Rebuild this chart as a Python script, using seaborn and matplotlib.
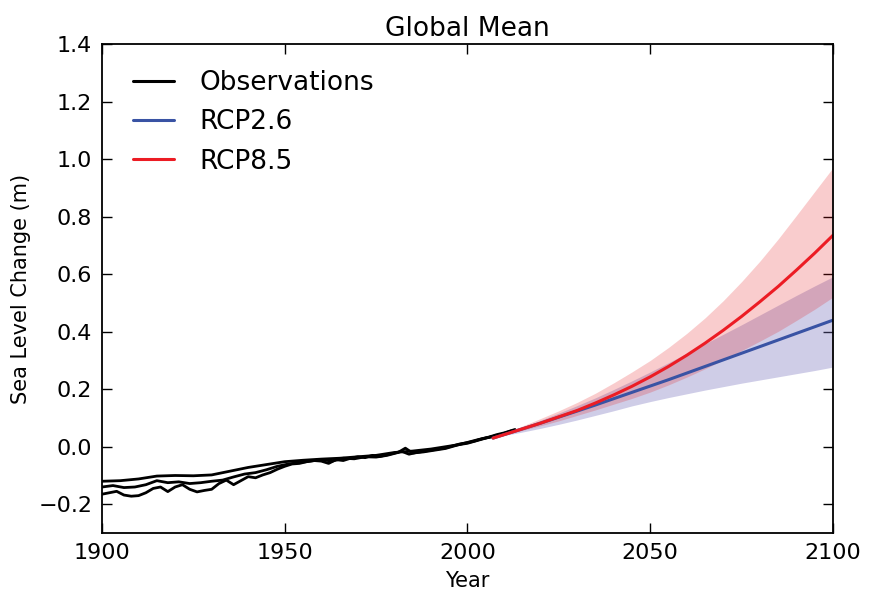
import numpy as np
import pandas as pd
import matplotlib
matplotlib.use("Agg")
import matplotlib.pyplot as plt
import seaborn as sns

# ====================
# DATOS
# ====================
obs_a_years = [1900, 1905, 1910, 1915, 1920, 1925, 1930, 1935, 1940, 1945, 1950, 1955,
               1960, 1965, 1970, 1975, 1980, 1985, 1990, 1995, 2000, 2005, 2010]
obs_a_vals = [-0.120, -0.118, -0.112, -0.102, -0.100, -0.101, -0.098, -0.085, -0.072, -0.062,
              -0.052, -0.047, -0.043, -0.040, -0.035, -0.030, -0.020, -0.015, -0.008, 0.002,
              0.012, 0.030, 0.045]

obs_b_years = [1900, 1903, 1906, 1909, 1912, 1915, 1918, 1921, 1924, 1927, 1930, 1933, 1936,
               1939, 1942, 1945, 1948, 1951, 1954, 1957, 1960, 1963, 1966, 1969, 1972, 1975,
               1978, 1981, 1983, 1985, 1988, 1991, 1994, 1997, 2000, 2003, 2006, 2009, 2012]
obs_b_vals = [-0.140, -0.135, -0.142, -0.140, -0.132, -0.118, -0.125, -0.122, -0.128, -0.125,
              -0.120, -0.116, -0.105, -0.095, -0.090, -0.080, -0.068, -0.060, -0.055, -0.050,
              -0.045, -0.050, -0.040, -0.042, -0.035, -0.036, -0.030, -0.020, -0.005, -0.022,
              -0.018, -0.012, -0.006, 0.005, 0.015, 0.025, 0.033, 0.042, 0.055]

obs_c_years = [1900, 1902, 1904, 1906, 1908, 1910, 1912, 1914, 1916, 1918, 1920, 1922, 1924,
               1926, 1928, 1930, 1932, 1934, 1936, 1938, 1940, 1942, 1944, 1946, 1948, 1950,
               1952, 1954, 1956, 1958, 1960, 1962, 1964, 1966, 1968, 1970, 1972, 1974, 1976,
               1978, 1980, 1982, 1984, 1986, 1988, 1990, 1992, 1994, 1996, 1998, 2000, 2002,
               2004, 2006, 2008, 2010, 2013]
obs_c_vals = [-0.165, -0.160, -0.155, -0.168, -0.172, -0.170, -0.160, -0.145, -0.140, -0.156,
              -0.140, -0.132, -0.148, -0.157, -0.152, -0.148, -0.128, -0.116, -0.132, -0.118,
              -0.104, -0.108, -0.098, -0.090, -0.078, -0.068, -0.060, -0.058, -0.052, -0.048,
              -0.050, -0.058, -0.045, -0.048, -0.040, -0.035, -0.038, -0.030, -0.034, -0.028,
              -0.022, -0.016, -0.026, -0.020, -0.016, -0.012, -0.008, -0.004, 0.003, 0.010,
              0.014, 0.020, 0.028, 0.034, 0.042, 0.048, 0.060]

proj_years = [2007, 2010, 2015, 2020, 2025, 2030, 2035, 2040, 2045, 2050,
              2055, 2060, 2065, 2070, 2075, 2080, 2085, 2090, 2095, 2100]
rcp26_mid = [0.030, 0.042, 0.062, 0.082, 0.103, 0.124, 0.145, 0.167, 0.189, 0.211,
             0.233, 0.256, 0.279, 0.302, 0.325, 0.348, 0.371, 0.394, 0.417, 0.440]
rcp26_low = [0.030, 0.039, 0.051, 0.064, 0.078, 0.093, 0.109, 0.125, 0.142, 0.157,
             0.171, 0.184, 0.197, 0.209, 0.221, 0.232, 0.243, 0.254, 0.265, 0.277]
rcp26_high = [0.030, 0.044, 0.068, 0.092, 0.117, 0.143, 0.170, 0.199, 0.229, 0.260,
              0.292, 0.325, 0.358, 0.391, 0.424, 0.458, 0.492, 0.526, 0.559, 0.591]
rcp85_mid = [0.030, 0.042, 0.062, 0.082, 0.104, 0.126, 0.152, 0.180, 0.210, 0.243,
             0.279, 0.318, 0.360, 0.405, 0.453, 0.504, 0.557, 0.614, 0.673, 0.735]
rcp85_low = [0.030, 0.041, 0.057, 0.073, 0.090, 0.109, 0.128, 0.148, 0.168, 0.190,
             0.215, 0.242, 0.271, 0.302, 0.334, 0.367, 0.401, 0.439, 0.478, 0.520]
rcp85_high = [0.030, 0.046, 0.072, 0.098, 0.125, 0.154, 0.186, 0.222, 0.260, 0.300,
              0.345, 0.394, 0.448, 0.508, 0.574, 0.645, 0.722, 0.804, 0.887, 0.970]

obs = pd.concat([
    pd.DataFrame({"Year": obs_a_years, "SLC": obs_a_vals, "serie": "a"}),
    pd.DataFrame({"Year": obs_b_years, "SLC": obs_b_vals, "serie": "b"}),
    pd.DataFrame({"Year": obs_c_years, "SLC": obs_c_vals, "serie": "c"}),
])
proj = pd.concat([
    pd.DataFrame({"Year": proj_years, "SLC": rcp26_mid, "Escenario": "RCP2.6"}),
    pd.DataFrame({"Year": proj_years, "SLC": rcp85_mid, "Escenario": "RCP8.5"}),
])

# ====================
# ESTILO
# ====================
sns.set_style("ticks", {"xtick.direction": "in", "ytick.direction": "in"})
plt.rcParams['font.family'] = ['DejaVu Sans']
plt.rcParams['text.color'] = "black"
plt.rcParams['axes.labelcolor'] = "black"

blue = "#3953a4"
red = "#ec1c24"

fig = plt.figure(figsize=(8.78, 5.91), dpi=100)
ax = fig.add_axes([0.1162, 0.0981, 0.8325, 0.8274])

# bandas
ax.fill_between(proj_years, rcp26_low, rcp26_high, color="#7670bd", alpha=0.35, lw=0)
ax.fill_between(proj_years, rcp85_low, rcp85_high, color="#e41a1c", alpha=0.22, lw=0)

# observaciones
sns.lineplot(data=obs, x="Year", y="SLC", units="serie", estimator=None,
             color="black", lw=2.0, ax=ax)
# proyecciones
sns.lineplot(data=proj, x="Year", y="SLC", hue="Escenario",
             palette={"RCP2.6": blue, "RCP8.5": red}, lw=2.2, ax=ax, legend=False)

ax.set_xlim(1900, 2100)
ax.set_ylim(-0.3, 1.4)
ax.set_xticks([1900, 1950, 2000, 2050, 2100])
ax.set_yticks(np.arange(-0.2, 1.41, 0.2))
ax.set_yticklabels(["\u22120.2", "0.0", "0.2", "0.4", "0.6", "0.8", "1.0", "1.2", "1.4"])
ax.tick_params(top=True, right=True, labelsize=16, length=7, width=1, colors="black", pad=7)
for s in ax.spines.values():
    s.set_linewidth(1.3)
    s.set_color("black")

ax.set_title("Global Mean", fontsize=19, color="black", pad=6)
ax.set_xlabel("Year", fontsize=15, labelpad=6)
ax.set_ylabel("Sea Level Change (m)", fontsize=15, labelpad=5)

# leyenda
h_obs, = ax.plot([], [], color="black", lw=2.2, label="Observations")
h26, = ax.plot([], [], color=blue, lw=2.2, label="RCP2.6")
h85, = ax.plot([], [], color=red, lw=2.2, label="RCP8.5")
ax.legend(handles=[h_obs, h26, h85], loc="upper left", frameon=False, fontsize=19,
          handlelength=1.55, handletextpad=0.95, labelspacing=0.5,
          bbox_to_anchor=(0.01, 0.995))

fig.savefig("out.png", dpi=100)
